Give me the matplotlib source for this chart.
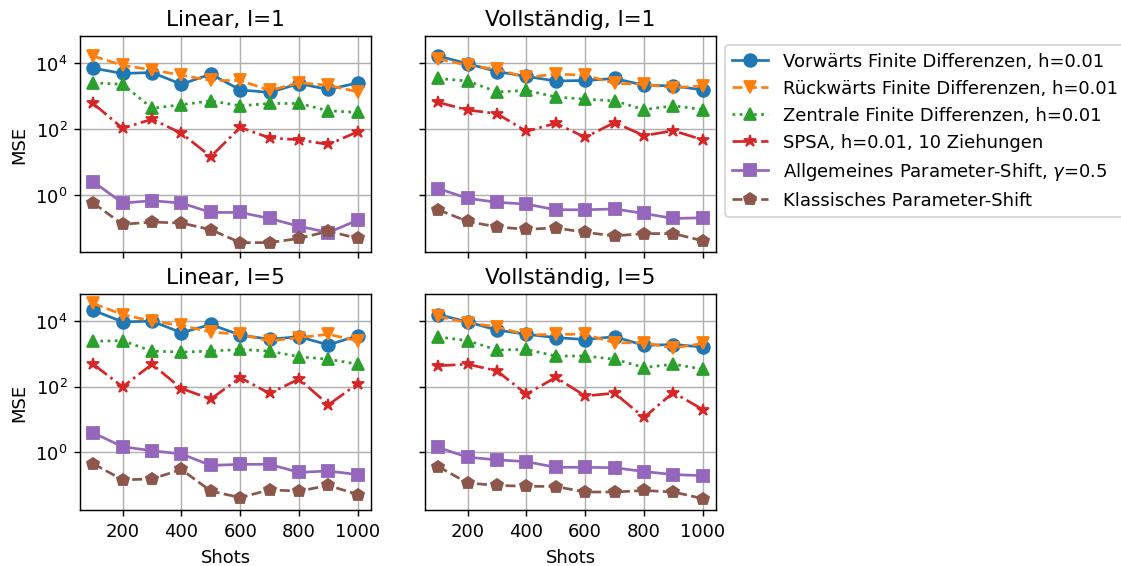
import matplotlib
matplotlib.use("Agg")
import matplotlib.pyplot as plt
import matplotlib.ticker as mticker

shots = [100, 200, 300, 400, 500, 600, 700, 800, 900, 1000]

labels = ["Vorwärts Finite Differenzen, h=0.01",
          "Rückwärts Finite Differenzen, h=0.01",
          "Zentrale Finite Differenzen, h=0.01",
          "SPSA, h=0.01, 10 Ziehungen",
          r"Allgemeines Parameter-Shift, $\gamma$=0.5",
          "Klassisches Parameter-Shift"]

titles = ["Linear, l=1", "Vollständig, l=1", "Linear, l=5", "Vollständig, l=5"]

# Linear, l=1
lin1_fwd = [7100, 4900, 5250, 2300, 4700, 1550, 1300, 2400, 1600, 2550]
lin1_bwd = [16600, 8700, 6300, 4350, 3000, 3000, 1500, 2550, 2150, 1350]
lin1_cen = [2550, 2300, 430, 550, 720, 510, 600, 600, 360, 320]
lin1_spsa = [600, 105, 200, 74, 14.5, 112, 54, 47, 34, 83]
lin1_gps = [2.5, 0.56, 0.66, 0.56, 0.29, 0.29, 0.19, 0.11, 0.071, 0.17]
lin1_ps = [0.56, 0.126, 0.148, 0.138, 0.087, 0.035, 0.035, 0.047, 0.078, 0.047]

# Vollständig, l=1
full1_fwd = [16600, 9800, 5600, 4000, 2900, 3000, 3450, 2150, 2050, 1550]
full1_bwd = [13800, 8700, 6600, 3700, 4700, 4350, 2450, 2300, 1800, 2050]
full1_cen = [3450, 2900, 1350, 1500, 950, 810, 720, 390, 510, 390]
full1_spsa = [650, 380, 295, 85, 150, 56, 158, 63, 89, 47]
full1_gps = [1.55, 0.78, 0.59, 0.52, 0.35, 0.35, 0.37, 0.27, 0.19, 0.20]
full1_ps = [0.35, 0.155, 0.105, 0.089, 0.098, 0.072, 0.056, 0.066, 0.066, 0.040]

# Linear, l=5
lin5_fwd = [20900, 9300, 9800, 4350, 7750, 3700, 2750, 3300, 1850, 3550]
lin5_bwd = [33900, 15500, 9800, 7250, 4550, 3900, 2450, 3100, 3900, 2450]
lin5_cen = [2400, 2500, 1200, 1120, 1200, 1350, 1200, 810, 680, 480]
lin5_spsa = [480, 98, 480, 87, 42, 186, 62, 170, 28, 123]
lin5_gps = [3.9, 1.48, 1.12, 0.89, 0.40, 0.43, 0.43, 0.245, 0.27, 0.21]
lin5_ps = [0.45, 0.145, 0.155, 0.30, 0.066, 0.042, 0.072, 0.066, 0.098, 0.052]

# Vollständig, l=5
full5_fwd = [15500, 9300, 5250, 3900, 3100, 2700, 3300, 1800, 1900, 1600]
full5_bwd = [13800, 8700, 6600, 3700, 3900, 3900, 2150, 2150, 1500, 2050]
full5_cen = [3250, 2500, 1300, 1350, 850, 850, 680, 380, 480, 340]
full5_spsa = [430, 480, 300, 59, 190, 52, 63, 11.5, 66, 20]
full5_gps = [1.41, 0.71, 0.59, 0.52, 0.35, 0.35, 0.34, 0.26, 0.21, 0.195]
full5_ps = [0.37, 0.117, 0.098, 0.093, 0.091, 0.062, 0.062, 0.069, 0.062, 0.039]

panels = [
    [lin1_fwd, lin1_bwd, lin1_cen, lin1_spsa, lin1_gps, lin1_ps],
    [full1_fwd, full1_bwd, full1_cen, full1_spsa, full1_gps, full1_ps],
    [lin5_fwd, lin5_bwd, lin5_cen, lin5_spsa, lin5_gps, lin5_ps],
    [full5_fwd, full5_bwd, full5_cen, full5_spsa, full5_gps, full5_ps],
]

styles = [("-", "o"), ("--", "v"), (":", "^"), ("-.", "*"), ("-", "s"), ("--", "p")]

fig, axs = plt.subplots(2, 2, sharex=True, sharey=True, figsize=(8.63, 4.36), dpi=130)
fig.subplots_adjust(left=0.0713, right=0.0713 + 0.2567 + 0.0535 + 0.2567,
                    bottom=0.0988, top=0.935, wspace=0.185, hspace=0.19)

for ax, title, series in zip(axs.flat, titles, panels):
    for vals, lab, (ls, mk) in zip(series, labels, styles):
        ax.plot(shots, vals, linestyle=ls, marker=mk, markersize=7, label=lab)
    ax.set_yscale("log")
    ax.set_title(title, fontsize=12)
    ax.grid(True)
    ax.yaxis.set_major_locator(mticker.LogLocator(base=10, numticks=4))
    ax.yaxis.set_minor_locator(mticker.NullLocator())

ax.set_xticks([200, 400, 600, 800, 1000])
for ax in axs[1]:
    ax.set_xlabel("Shots")
for ax in axs[:, 0]:
    ax.set_ylabel("MSE")

axs[0, 1].legend(loc="upper left", bbox_to_anchor=(1.0, 1.0))

fig.savefig("out.png", dpi=130)
